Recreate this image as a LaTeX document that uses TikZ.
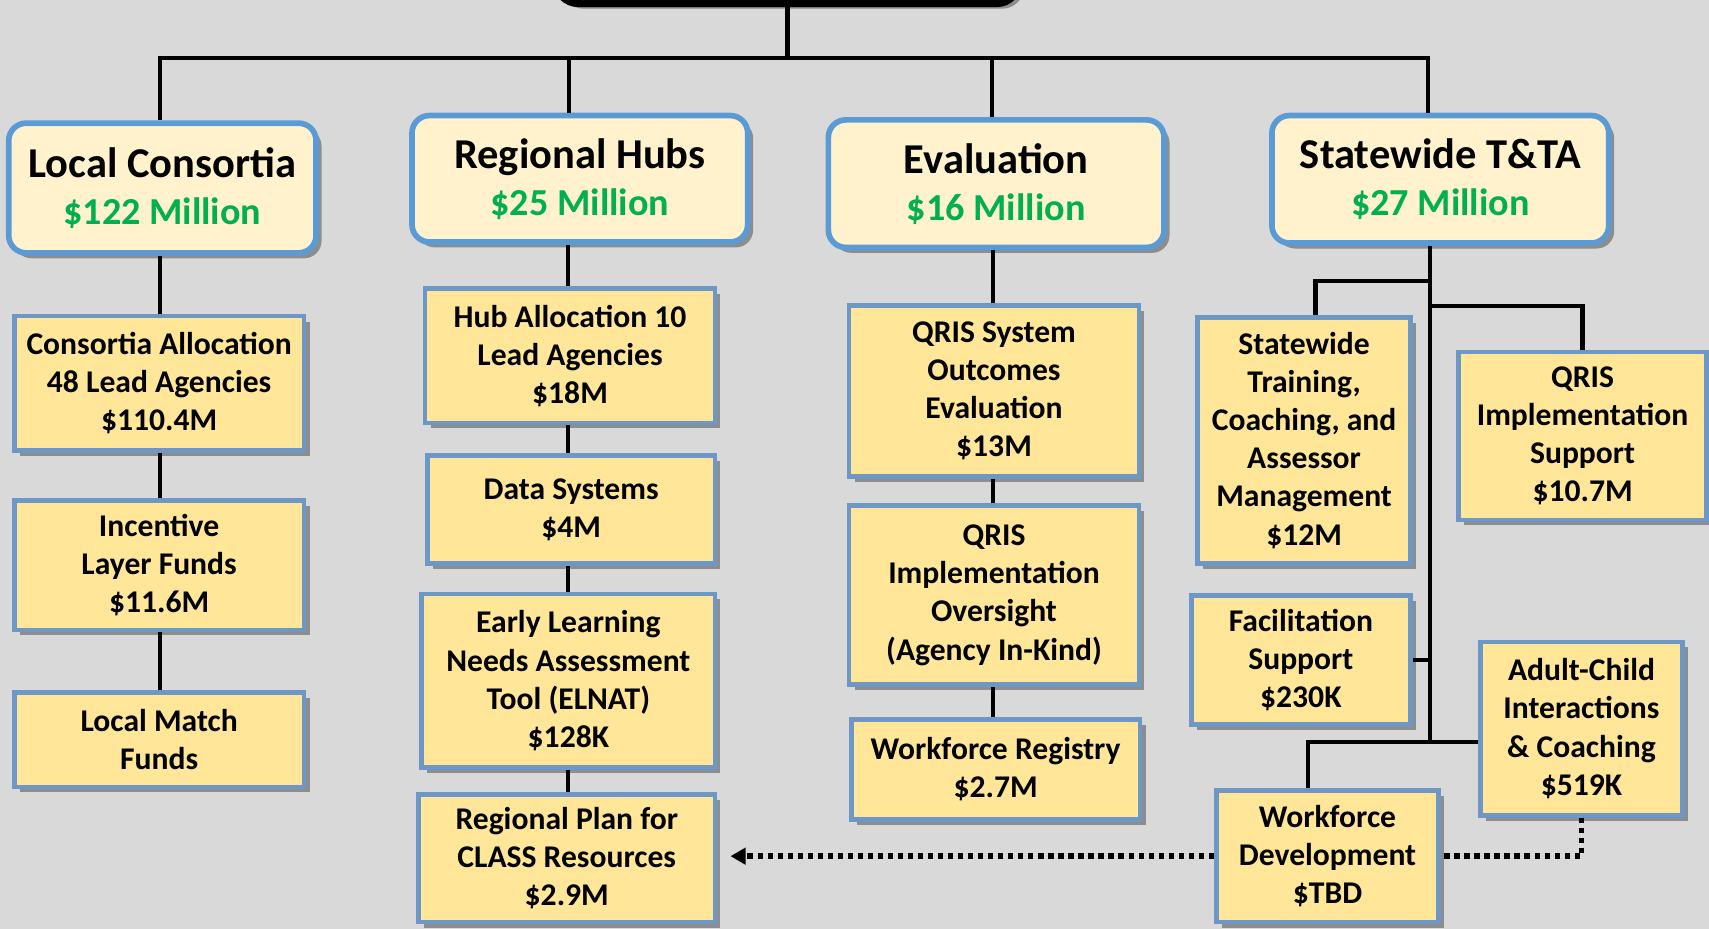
\documentclass[tikz,border=0pt]{standalone}
\usepackage{fontspec}
\setmainfont{Carlito}
\usetikzlibrary{shadows,arrows.meta,calc}
\definecolor{bg}{HTML}{D9D9D9}
\definecolor{hdrfill}{HTML}{FFF2CC}
\definecolor{hdrline}{HTML}{5B9BD5}
\definecolor{boxfill}{HTML}{FFE699}
\definecolor{boxline}{HTML}{6C97C6}
\definecolor{money}{HTML}{00B050}
\newcommand{\money}[1]{{\fontsize{17.5}{21.5}\selectfont\color{money}#1}}
\begin{document}
\begin{tikzpicture}[x=0.5pt,y=-0.5pt,
  shad/.style={drop shadow={shadow xshift=2.5pt,shadow yshift=-2.5pt,opacity=0.35,fill=black}},
  hdr/.style={draw=hdrline, line width=2.6pt, fill=hdrfill, rounded corners=8pt, align=center, inner sep=0pt, font=\bfseries\fontsize{19.5}{21.5}\selectfont, shad},
  box/.style={draw=boxline, line width=2.2pt, fill=boxfill, align=center, inner sep=0pt, font=\bfseries\fontsize{14.5}{17.5}\selectfont, shad},
  link/.style={line width=2pt, draw=black},
  dots/.style={line width=2.6pt, draw=black, dash pattern=on 2.4pt off 2.2pt}
]
\fill[bg] (0,0) rectangle (1568,852);
\useasboundingbox (0,0) rectangle (1568,852);

% top box
\node[draw=black, line width=3.5pt, rounded corners=10pt, fill=bg, minimum width=212pt, minimum height=43pt, inner sep=0pt, shad] (top) at (722.5,-40) {};

% headers
\node[hdr, minimum width=141pt, minimum height=59.5pt] (lc) at (149,172.5) {Local Consortia\\\money{\$122 Million}};
\node[hdr, minimum width=154pt, minimum height=58pt] (rh) at (532,164) {Regional Hubs\\\money{\$25 Million}};
\node[hdr, minimum width=154pt, minimum height=58.5pt] (ev) at (914,168.5) {Evaluation\\\money{\$16 Million}};
\node[hdr, minimum width=154.5pt, minimum height=58.5pt] (st) at (1321.5,164.5) {Statewide T\&TA\\\money{\$27 Million}};

% column 1
\node[box, minimum width=133pt, minimum height=61.5pt] (ca) at (146,351.5) {Consortia Allocation\\48 Lead Agencies\\\$110.4M};
\node[box, minimum width=133pt, minimum height=59.5pt] (il) at (146,518.5) {Incentive\\Layer Funds\\\$11.6M};
\node[box, minimum width=133pt, minimum height=43.5pt] (lm) at (146,678.5) {Local Match\\Funds};

% column 2
\node[box, minimum width=133pt, minimum height=61.5pt] (ha) at (523,326.5) {Hub Allocation 10\\Lead Agencies\\\$18M};
\node[box, minimum width=132pt, minimum height=49.5pt] (ds) at (524,467.5) {Data Systems\\\$4M};
\node[box, minimum width=134.5pt, minimum height=79.5pt] (el) at (521.5,624.5) {Early Learning\\Needs Assessment\\Tool (ELNAT)\\\$128K};
\node[box, minimum width=136pt, minimum height=58.5pt] (rp) at (520,787.5) {Regional Plan for\\CLASS Resources\\\$2.9M};

% column 3
\node[box, minimum width=133pt, minimum height=78.5pt] (qs) at (912,358.5) {QRIS System\\Outcomes\\Evaluation\\\$13M};
\node[box, minimum width=133pt, minimum height=82pt] (qo) at (912,546) {QRIS\\Implementation\\Oversight\\(Agency In-Kind)};
\node[box, minimum width=132.5pt, minimum height=46pt] (wr) at (913.5,706) {Workforce Registry\\\$2.7M};

% column 4
\node[box, minimum width=97.5pt, minimum height=113pt] (stc) at (1196.5,404) {Statewide\\Training,\\Coaching, and\\Assessor\\Management\\\$12M};
\node[box, minimum width=114pt, minimum height=77pt] (qis) at (1452,400) {QRIS\\Implementation\\Support\\\$10.7M};
\node[box, minimum width=100.5pt, minimum height=59.5pt] (fs) at (1193.5,605.5) {Facilitation\\Support\\\$230K};
\node[box, minimum width=93pt, minimum height=79.5pt] (ac) at (1451,668.5) {Adult-Child\\Interactions\\\& Coaching\\\$519K};
\node[box, minimum width=102pt, minimum height=60.5pt] (wd) at (1218,785.5) {Workforce\\Development\\\$TBD};

% helper coordinates
\coordinate (bus) at (0,53);
\coordinate (k1) at (147,0);
\coordinate (k2) at (522,0);
\coordinate (k3) at (910,0);
\coordinate (k4) at (1310,0);
\coordinate (c2) at (521,0);
\coordinate (c3) at (911,0);
\coordinate (j) at (1312,681);
\coordinate (b1) at (1312,258);
\coordinate (b2) at (1312,281);
\coordinate (k5) at (1207,0);
\coordinate (k6) at (1200,0);

% top-level connectors
\draw[link] (top.south) -- (top.south |- bus);
\draw[link] (lc.north -| k1) -- (k1 |- bus) -- (k4 |- bus) -- (st.north -| k4);
\draw[link] (k2 |- bus) -- (rh.north -| k2);
\draw[link] (k3 |- bus) -- (ev.north -| k3);

% column 1 connectors
\draw[link] (lc.south -| k1) -- (ca.north -| k1);
\draw[link] (ca.south -| k1) -- (il.north -| k1);
\draw[link] (il.south -| k1) -- (lm.north -| k1);

% column 2 connectors
\draw[link] (rh.south -| c2) -- (ha.north -| c2);
\draw[link] (ha.south -| c2) -- (ds.north -| c2);
\draw[link] (ds.south -| c2) -- (el.north -| c2);
\draw[link] (el.south -| c2) -- (rp.north -| c2);

% column 3 connectors
\draw[link] (ev.south -| c3) -- (qs.north -| c3);
\draw[link] (qs.south -| c3) -- (qo.north -| c3);
\draw[link] (qo.south -| c3) -- (wr.north -| c3);

% column 4 connectors
\draw[link] (st.south -| j) -- (j);
\draw[link] (b1) -| (stc.north -| k5);
\draw[link] (b2) -| (qis.north);
\draw[link] (fs.east) -- (fs.east -| j);
\draw[link] (ac.west |- j) -- (j -| k6) -- (wd.north -| k6);

% dotted connectors
\draw[dots] (ac.south) -- (ac.south |- wd.east) -- (wd.east);
\draw[dots, -{Triangle[length=7pt,width=7.5pt]}, shorten >=6pt] (wd.west) -- (wd.west -| rp.east);
\end{tikzpicture}
\end{document}
